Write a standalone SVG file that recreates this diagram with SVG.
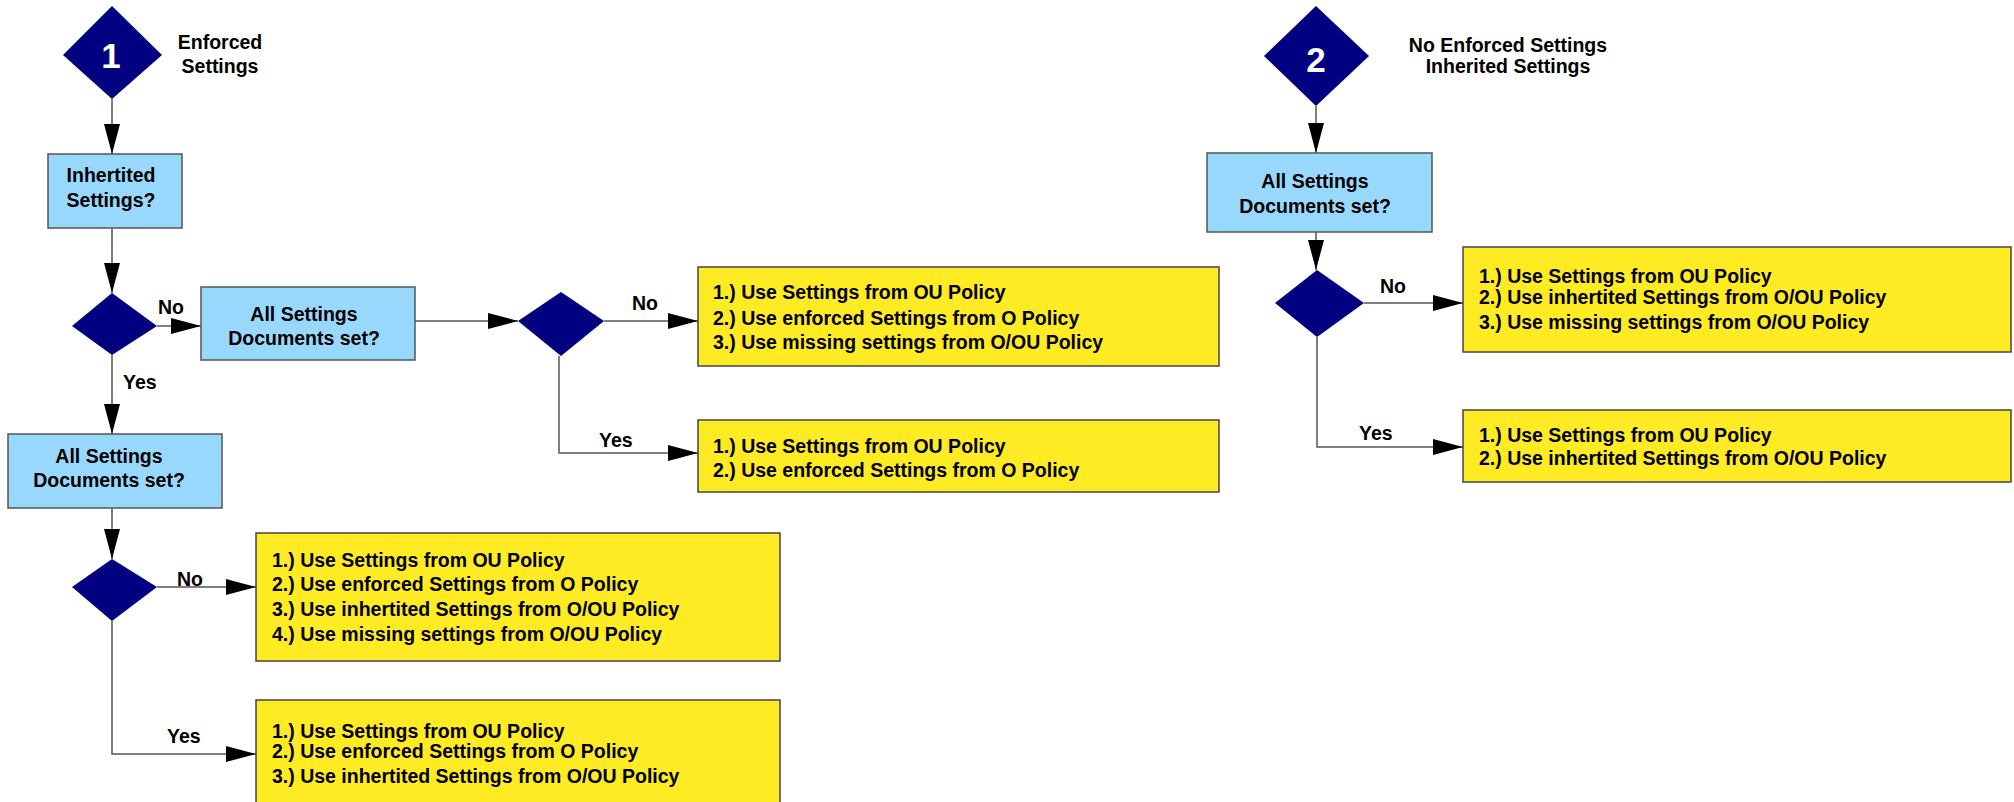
<svg xmlns="http://www.w3.org/2000/svg" width="2014" height="802" viewBox="0 0 2014 802">
<defs>
<marker id="ah" markerUnits="userSpaceOnUse" markerWidth="31" markerHeight="16" refX="30" refY="8" orient="auto">
<path d="M0,0 L30,8 L0,16 z" fill="#000"/>
</marker>
<style>
text{font-family:"Liberation Sans",Arial,sans-serif;font-weight:bold;font-size:19.5px;fill:#000}
.c{text-anchor:middle}
.num{fill:#fff;font-size:35px;text-anchor:middle;font-family:"Liberation Sans Narrow","Liberation Sans",Arial,sans-serif}
.dia{fill:#000080}
.q{fill:#99d8fd;stroke:#555;stroke-width:1.5}
.r{fill:#ffeb24;stroke:#444;stroke-width:1.5}
.ln{fill:none;stroke:#555;stroke-width:1.5}
.ar{fill:none;stroke:#555;stroke-width:1.5;marker-end:url(#ah)}
</style>
</defs>
<rect width="2014" height="802" fill="#fff"/>

<g id="connectors">
<path class="ar" d="M112,99 L112,154"/>
<path class="ar" d="M112,228 L112,293"/>
<path class="ar" d="M157,326 L201,326"/>
<path class="ar" d="M112,355 L112,434"/>
<path class="ar" d="M415,321 L518,321"/>
<path class="ar" d="M604,321 L698,321"/>
<path class="ar" d="M559,356 L559,453 L698,453"/>
<path class="ar" d="M112,508 L112,559"/>
<path class="ar" d="M157,587 L256,587"/>
<path class="ar" d="M112,621 L112,754 L256,754"/>
<path class="ar" d="M1316,106 L1316,153"/>
<path class="ar" d="M1316,232 L1316,270"/>
<path class="ar" d="M1364,303 L1463,303"/>
<path class="ar" d="M1317,337 L1317,447 L1463,447"/>
<text x="158" y="314">No</text>
<text x="123" y="389">Yes</text>
<text x="632" y="310">No</text>
<text x="599" y="447">Yes</text>
<text x="177" y="586">No</text>
<text x="167" y="743">Yes</text>
<text x="1380" y="293">No</text>
<text x="1359" y="440">Yes</text>
</g>

<g id="start1">
<polygon class="dia" points="112,6 162,55 112,99 63,55"/>
<text class="num" x="111" y="68">1</text>
<text class="c" x="220" y="49">Enforced</text>
<text class="c" x="220" y="73">Settings</text>
</g>

<g id="inherited">
<rect class="q" x="48" y="154" width="134" height="74"/>
<text class="c" x="111" y="182">Inhertited</text>
<text class="c" x="111" y="207">Settings?</text>
</g>

<g id="decision1">
<polygon class="dia" points="112,293 157,326 112,355 72,326"/>
</g>

<g id="allset-mid">
<rect class="q" x="201" y="287" width="214" height="73"/>
<text class="c" x="304" y="321">All Settings</text>
<text class="c" x="304" y="345">Documents set?</text>
</g>

<g id="decision-mid">
<polygon class="dia" points="561,292 604,321 561,356 518,321"/>
</g>

<g id="resultA">
<rect class="r" x="698" y="267" width="521" height="99"/>
<text x="713" y="299">1.) Use Settings from OU Policy</text>
<text x="713" y="325">2.) Use enforced Settings from O Policy</text>
<text x="713" y="349">3.) Use missing settings from O/OU Policy</text>
</g>

<g id="resultB">
<rect class="r" x="698" y="420" width="521" height="72"/>
<text x="713" y="453">1.) Use Settings from OU Policy</text>
<text x="713" y="477">2.) Use enforced Settings from O Policy</text>
</g>

<g id="allset-low">
<rect class="q" x="8" y="434" width="214" height="74"/>
<text class="c" x="109" y="463">All Settings</text>
<text class="c" x="109" y="487">Documents set?</text>
</g>

<g id="decision-low">
<polygon class="dia" points="112,559 157,587 112,621 72,587"/>
</g>

<g id="resultC">
<rect class="r" x="256" y="533" width="524" height="128"/>
<text x="272" y="567">1.) Use Settings from OU Policy</text>
<text x="272" y="591">2.) Use enforced Settings from O Policy</text>
<text x="272" y="616">3.) Use inhertited Settings from O/OU Policy</text>
<text x="272" y="641">4.) Use missing settings from O/OU Policy</text>
</g>

<g id="resultD">
<rect class="r" x="256" y="700" width="524" height="112"/>
<text x="272" y="738">1.) Use Settings from OU Policy</text>
<text x="272" y="758">2.) Use enforced Settings from O Policy</text>
<text x="272" y="783">3.) Use inhertited Settings from O/OU Policy</text>
</g>

<g id="start2">
<polygon class="dia" points="1316,6 1369,56 1316,106 1264,56"/>
<text class="num" x="1316" y="72">2</text>
<text class="c" x="1508" y="52">No Enforced Settings</text>
<text class="c" x="1508" y="73">Inherited Settings</text>
</g>

<g id="allset-right">
<rect class="q" x="1207" y="153" width="225" height="79"/>
<text class="c" x="1315" y="188">All Settings</text>
<text class="c" x="1315" y="213">Documents set?</text>
</g>

<g id="decision-right">
<polygon class="dia" points="1317,270 1364,303 1317,337 1275,303"/>
</g>

<g id="resultE">
<rect class="r" x="1463" y="247" width="548" height="105"/>
<text x="1479" y="283">1.) Use Settings from OU Policy</text>
<text x="1479" y="304">2.) Use inhertited Settings from O/OU Policy</text>
<text x="1479" y="329">3.) Use missing settings from O/OU Policy</text>
</g>

<g id="resultF">
<rect class="r" x="1463" y="410" width="548" height="72"/>
<text x="1479" y="442">1.) Use Settings from OU Policy</text>
<text x="1479" y="465">2.) Use inhertited Settings from O/OU Policy</text>
</g>
</svg>
